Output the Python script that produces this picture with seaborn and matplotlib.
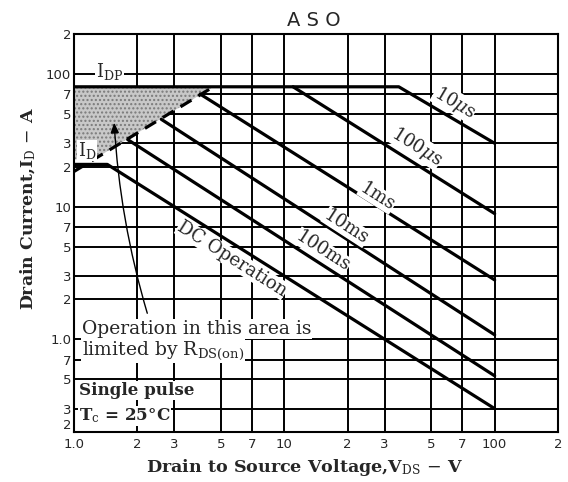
import numpy as np
import pandas as pd
import matplotlib
matplotlib.use("Agg")
import matplotlib.pyplot as plt
import seaborn as sns

# ---- data ----
x_10us = [1.0, 35.0, 100.0];   y_10us = [80.0, 80.0, 30.0]
x_100us = [11.0, 100.0];       y_100us = [80.0, 8.85]
x_1ms = [3.98, 100.0];         y_1ms = [70.5, 2.8]
x_10ms = [2.6, 100.0];         y_10ms = [45.5, 1.08]
x_100ms = [1.8, 100.0];        y_100ms = [32.0, 0.53]
x_dc = [1.0, 1.44, 100.0];     y_dc = [20.8, 20.8, 0.3]
x_ron = [1.0, 4.6];            y_ron = [18.4, 80.0]     # R_DS(on) limit (dashed)
idp = 80.0
shade_floor = 22.7

x_grid = [1, 2, 3, 5, 7, 10, 20, 30, 50, 70, 100]
y_grid = [0.2, 0.3, 0.5, 0.7, 1, 2, 3, 5, 7, 10, 20, 30, 50, 70, 100]
x_ticks = [1, 2, 3, 5, 7, 10, 20, 30, 50, 70, 100, 200]
x_ticklabels = ["1.0", "2", "3", "5", "7", "10", "2", "3", "5", "7", "100", "2"]
y_ticks = [0.2, 0.3, 0.5, 0.7, 1, 2, 3, 5, 7, 10, 20, 30, 50, 70, 100, 200]
y_ticklabels = ["2", "3", "5", "7", "1.0", "2", "3", "5", "7", "10", "2", "3", "5", "7", "100", "2"]

sns.set_style("white")
plt.rcParams["mathtext.fontset"] = "dejavuserif"
plt.rcParams["font.family"] = ["DejaVu Serif"]

fig = plt.figure(figsize=(5.68, 4.82), dpi=100)
ax = fig.add_axes([74/568, 1-432/482, (558-74)/568, (432-34)/482])
ax.set_xscale("log"); ax.set_yscale("log")
ax.set_xlim(1, 200); ax.set_ylim(0.2, 200)

for gx in x_grid:
    ax.axvline(gx, color="k", lw=1.4, zorder=1)
for gy in y_grid:
    ax.axhline(gy, color="k", lw=1.4, zorder=1)

# shaded area limited by R_DS(on)
xs = np.geomspace(x_ron[0], x_ron[1], 50)
slope = np.log(y_ron[1]/y_ron[0]) / np.log(x_ron[1]/x_ron[0])
lower = np.maximum(y_ron[0] * (xs/x_ron[0])**slope, shade_floor)
ax.fill_between(xs, lower, idp, facecolor="#c8c8c8", hatch="....", edgecolor="#7a7a7a", lw=0, zorder=2)

series = [("10us", x_10us, y_10us), ("100us", x_100us, y_100us), ("1ms", x_1ms, y_1ms),
          ("10ms", x_10ms, y_10ms), ("100ms", x_100ms, y_100ms), ("DC", x_dc, y_dc)]
rows = []
for name, xv, yv in series:
    for i, (a, b) in enumerate(zip(xv, yv)):
        rows.append({"s": name, "i": i, "x": a, "y": b})
df = pd.DataFrame(rows)
sns.lineplot(data=df, x="x", y="y", units="s", estimator=None, sort=False,
             color="k", lw=2.3, ax=ax, zorder=4)
dfr = pd.DataFrame({"x": x_ron, "y": y_ron})
sns.lineplot(data=dfr, x="x", y="y", color="k", lw=2.3, ax=ax, zorder=4, linestyle=(0, (4, 2.5)))

ax.set_xticks(x_ticks); ax.set_xticklabels(x_ticklabels)
ax.set_yticks(y_ticks); ax.set_yticklabels(y_ticklabels)
ax.minorticks_off()
ax.tick_params(axis="y", length=0, pad=2, labelsize=9.5)
ax.tick_params(axis="x", length=0, pad=4, labelsize=9.5)
for lab in ax.get_xticklabels() + ax.get_yticklabels():
    lab.set_family("DejaVu Sans")
ax.get_yticklabels()[0].set_va("bottom")
for sp in ax.spines.values():
    sp.set_color("k"); sp.set_linewidth(1.5)

ax.set_xlabel(r"Drain to Source Voltage,V$_{\rm DS}$ $-$ V", fontsize=12.6, fontweight="bold")
ax.set_ylabel(r"Drain Current,I$_{\rm D}$ $-$ A", fontsize=12.4, fontweight="bold")
ax.xaxis.set_label_coords(0.477, -0.062)
ax.yaxis.set_label_coords(-0.074, 0.56)
fig.text(0.553, 0.958, "A S O", ha="center", va="center", fontsize=14, family="DejaVu Sans")

def seg_angle(xv, yv):
    p = ax.transData.transform([(xv[-2], yv[-2]), (xv[-1], yv[-1])])
    return np.degrees(np.arctan2(p[1][1]-p[0][1], p[1][0]-p[0][0]))

lbl = dict(ha="center", va="center", fontsize=13, rotation_mode="anchor", zorder=6,
           bbox=dict(facecolor="white", edgecolor="none", pad=0.3))
ax.text(64.5, 61, r"10$\mu$s", rotation=seg_angle(x_10us, y_10us), **lbl)
ax.text(42.5, 28.5, r"100$\mu$s", rotation=seg_angle(x_100us, y_100us), **lbl)
ax.text(27.7, 11.9, "1ms", rotation=seg_angle(x_1ms, y_1ms), **lbl)
ax.text(19.7, 7.05, "10ms", rotation=seg_angle(x_10ms, y_10ms), **lbl)
ax.text(15.2, 4.64, "100ms", rotation=seg_angle(x_100ms, y_100ms), **lbl)
ax.text(5.65, 4.04, "DC Operation", rotation=seg_angle(x_dc, y_dc), **lbl)

ax.text(1.27, 105, r"I$_{\rm DP}$", fontsize=13, ha="left", va="center", zorder=6,
        bbox=dict(facecolor="white", edgecolor="none", pad=0.5))
ax.text(1.04, 26.5, r"I$_{\rm D}$", fontsize=13, ha="left", va="center", zorder=6,
        bbox=dict(facecolor="white", edgecolor="none", pad=0.2))

box = dict(facecolor="white", edgecolor="none", pad=0.5)
ax.text(1.09, 1.19, "Operation in this area is", fontsize=13.5, ha="left", va="center", zorder=6, bbox=box)
ax.text(1.09, 0.825, r"limited by R$_{\rm DS(on)}$", fontsize=13.5, ha="left", va="center", zorder=6, bbox=box)
ax.text(1.055, 0.41, "Single pulse", fontsize=12.1, fontweight="bold", ha="left", va="center", zorder=6, bbox=box)
ax.text(1.055, 0.266, r"T$_{\rm c}$ = 25°C", fontsize=12.1, fontweight="bold", ha="left", va="center", zorder=6, bbox=box)

ax.annotate("", xy=(1.55, 45), xytext=(2.25, 1.5),
            arrowprops=dict(arrowstyle="-|>,head_length=0.6,head_width=0.25", lw=1.0, color="k",
                            connectionstyle="arc3,rad=-0.06"), zorder=7)

fig.savefig("out.png", dpi=100)
